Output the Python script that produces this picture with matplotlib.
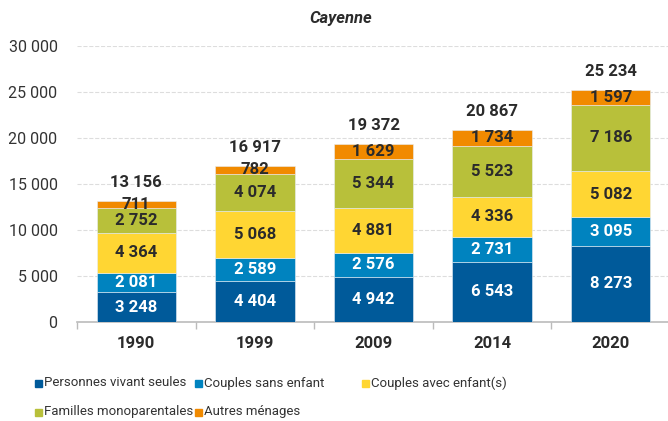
import matplotlib
matplotlib.use('Agg')
import matplotlib.pyplot as plt
from matplotlib.patches import Rectangle
import numpy as np

plt.rcParams['font.family'] = ['Roboto', 'DejaVu Sans']

annees = ['1990', '1999', '2009', '2014', '2020']
seules = [3248, 4404, 4942, 6543, 8273]
sans_enfant = [2081, 2589, 2576, 2731, 3095]
avec_enfant = [4364, 5068, 4881, 4336, 5082]
monoparentales = [2752, 4074, 5344, 5523, 7186]
autres = [711, 782, 1629, 1734, 1597]
totaux = [13156, 16917, 19372, 20867, 25234]

series = [
    ('Personnes vivant seules', seules, '#005a9a', 'white'),
    ('Couples sans enfant', sans_enfant, '#0083bf', 'white'),
    ('Couples avec enfant(s)', avec_enfant, '#ffd633', '#2b2b2b'),
    ('Familles monoparentales', monoparentales, '#b8c03a', '#2b2b2b'),
    ('Autres ménages', autres, '#f18a00', '#2b2b2b'),
]

def fmt(v):
    return f'{v:,}'.replace(',', ' ')

fig = plt.figure(figsize=(6.68, 4.21), dpi=100)
ax = fig.add_axes([77/668, 99/421, 593/668, 276/421])

x = np.arange(len(annees))
bas = np.zeros(len(annees))
for nom, vals, coul, tcoul in series:
    vals = np.array(vals)
    ax.bar(x, vals, 0.67, bottom=bas, color=coul, edgecolor='#e8eef5', linewidth=0.4, zorder=3)
    for xi, b, v in zip(x, bas, vals):
        ax.text(xi, b + v/2, fmt(v), ha='center', va='center', color=tcoul,
                fontsize=12, fontweight='bold', zorder=4)
    bas = bas + vals

for xi, t in zip(x, totaux):
    ax.text(xi, t + 2000, fmt(t), ha='center', va='center', color='#2b2b2b',
            fontsize=12, fontweight='bold', zorder=4)

ax.set_xlim(-0.5, len(annees) - 0.5)
ax.set_ylim(0, 30000)
ax.set_yticks(np.arange(0, 30001, 5000))
ax.set_yticklabels([fmt(v) for v in range(0, 30001, 5000)], fontsize=11.5, color='#333333')
ax.set_xticks(x)
ax.set_xticklabels(annees, fontsize=12, fontweight='bold', color='#2b2b2b')
ax.set_xticks(np.arange(-0.5, len(annees)), minor=True)
ax.tick_params(axis='x', which='major', length=0, pad=10)
ax.tick_params(axis='x', which='minor', length=5, color='#bbbbbb', width=1)
ax.tick_params(axis='y', length=0, pad=14)
ax.grid(axis='y', color='#dddddd', linestyle='--', linewidth=0.8, zorder=0)
for s in ['top', 'right', 'left']:
    ax.spines[s].set_visible(False)
ax.spines['bottom'].set_color('#bbbbbb')
ax.spines['bottom'].set_linewidth(1.2)
ax.set_axisbelow(True)

fig.text(341/668, 1 - 18/421, 'Cayenne', ha='center', va='center', fontsize=12,
         fontweight='bold', fontstyle='italic', color='#2b2b2b')

# légende
pos = [(35, 383), (195, 383), (362, 383), (35, 412), (195, 412)]
for (nom, vals, coul, tcoul), (px, py) in zip(series, pos):
    fig.patches.append(Rectangle((px/668, 1 - (py + 3.5)/421), 7/668, 7/421,
                                 color=coul, transform=fig.transFigure))
    fig.text((px + 9.5)/668, 1 - py/421, nom, ha='left', va='center',
             fontsize=9.5, color='#333333')

fig.savefig('out.png', dpi=100)
